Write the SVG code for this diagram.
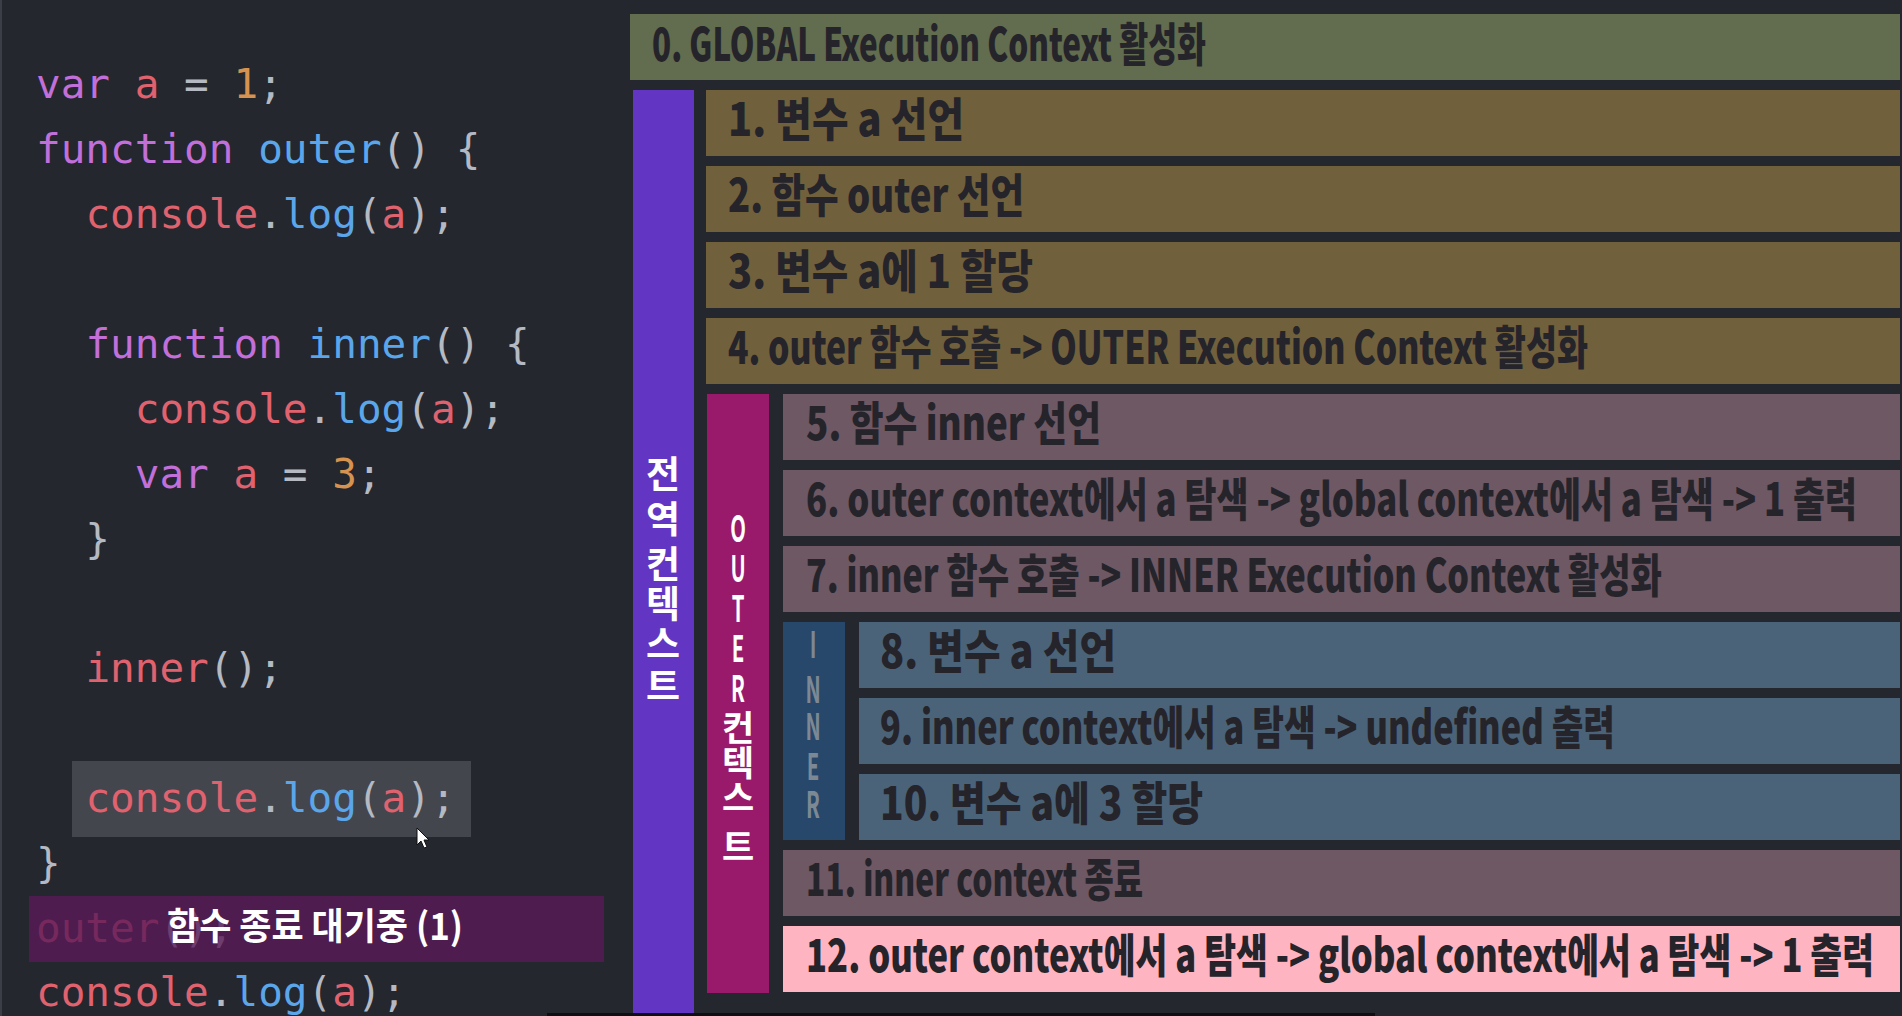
<svg xmlns="http://www.w3.org/2000/svg" width="1902" height="1016" viewBox="0 0 1902 1016">
<defs>
<style>
.code{font-family:"DejaVu Sans Mono","Liberation Mono",monospace;font-size:41px;white-space:pre;fill:#b4b9c2}
.k{fill:#c26fd9}.f{fill:#5ba6ea}.v{fill:#e0626f}.n{fill:#d6924f}.p{fill:#b4b9c2}
.lbl{font-family:"Noto Sans CJK KR","Noto Sans",sans-serif;font-weight:900;font-size:46px;fill:#25242b}
.vt{font-family:"Noto Sans CJK KR","Noto Sans",sans-serif;font-weight:700;font-size:37px;fill:#ffffff;text-anchor:middle}
.g0{fill:#626c4e}.g1{fill:#71603c}.g2{fill:#6d5864}.g3{fill:#4b6378}.g4{fill:#ffb5c1}
</style>
</defs>
<rect x="0" y="0" width="1902" height="1016" fill="#24272e"/>
<rect x="0" y="0" width="2" height="1016" fill="#3b3e46"/>

<g id="code">
<rect x="72" y="761" width="399" height="76" fill="#44464d"/>
<text class="code" x="36" y="98"><tspan class="k">var</tspan> <tspan class="v">a</tspan> = <tspan class="n">1</tspan>;</text>
<text class="code" x="36" y="163"><tspan class="k">function</tspan> <tspan class="f">outer</tspan>() {</text>
<text class="code" x="36" y="228">  <tspan class="v">console</tspan>.<tspan class="f">log</tspan>(<tspan class="v">a</tspan>);</text>
<text class="code" x="36" y="358">  <tspan class="k">function</tspan> <tspan class="f">inner</tspan>() {</text>
<text class="code" x="36" y="423">    <tspan class="v">console</tspan>.<tspan class="f">log</tspan>(<tspan class="v">a</tspan>);</text>
<text class="code" x="36" y="488">    <tspan class="k">var</tspan> <tspan class="v">a</tspan> = <tspan class="n">3</tspan>;</text>
<text class="code" x="36" y="553">  }</text>
<text class="code" x="36" y="682">  <tspan class="v">inner</tspan>();</text>
<text class="code" x="36" y="812">  <tspan class="v">console</tspan>.<tspan class="f">log</tspan>(<tspan class="v">a</tspan>);</text>
<text class="code" x="36" y="877">}</text>
<text class="code" x="36" y="942"><tspan class="v">outer</tspan>();</text>
<text class="code" x="36" y="1006"><tspan class="v">console</tspan>.<tspan class="f">log</tspan>(<tspan class="v">a</tspan>);</text>
<polygon points="417,828 417,845 421,841 424,848 427,847 424,840 429,840" fill="#ffffff" stroke="#111111" stroke-width="1"/>
</g>

<g id="waiting">
<rect x="29" y="896" width="575" height="66" fill="#5a1958" opacity="0.78"/>
<text x="167" y="940" textLength="296" lengthAdjust="spacingAndGlyphs" style="font-family:'Noto Sans CJK KR','Noto Sans',sans-serif;font-weight:700;font-size:37px;fill:#ffffff">함수 종료 대기중 (1)</text>
</g>

<g id="global-context">
<rect x="633" y="90" width="61" height="923" fill="#6236c3"/>
<text class="vt" x="663"><tspan x="663" y="488">전</tspan><tspan x="663" y="533">역</tspan><tspan x="663" y="578">컨</tspan><tspan x="663" y="618">텍</tspan><tspan x="663" y="658">스</tspan><tspan x="663" y="700">트</tspan></text>
</g>

<g id="outer-context">
<rect x="707" y="394" width="62" height="599" fill="#991a6b"/>
<g transform="translate(738 0) scale(0.55 1)">
<text class="vt" style="font-size:37px"><tspan x="0" y="542">O</tspan><tspan x="0" y="582">U</tspan><tspan x="0" y="622">T</tspan><tspan x="0" y="662">E</tspan><tspan x="0" y="702">R</tspan></text>
</g>
<text class="vt" style="font-size:35px"><tspan x="738" y="741">컨</tspan><tspan x="738" y="776">텍</tspan><tspan x="738" y="811">스</tspan><tspan x="738" y="860">트</tspan></text>
</g>

<g id="inner-context">
<rect x="783" y="622" width="62" height="218" fill="#27486a"/>
<g transform="translate(813 0) scale(0.55 1)">
<text class="vt" style="font-size:37px;fill:#7c8894"><tspan x="0" y="658">I</tspan><tspan x="0" y="703">N</tspan><tspan x="0" y="740">N</tspan><tspan x="0" y="780">E</tspan><tspan x="0" y="818">R</tspan></text>
</g>
</g>

<g id="step0"><rect class="g0" x="630" y="14" width="1270" height="66"/><text class="lbl" x="652" y="61" textLength="554" lengthAdjust="spacingAndGlyphs">0. GLOBAL Execution Context 활성화</text></g>
<g id="step1"><rect class="g1" x="706" y="90" width="1194" height="66"/><text class="lbl" x="728" y="136" textLength="236" lengthAdjust="spacingAndGlyphs">1. 변수 a 선언</text></g>
<g id="step2"><rect class="g1" x="706" y="166" width="1194" height="66"/><text class="lbl" x="728" y="212" textLength="296" lengthAdjust="spacingAndGlyphs">2. 함수 outer 선언</text></g>
<g id="step3"><rect class="g1" x="706" y="242" width="1194" height="66"/><text class="lbl" x="728" y="288" textLength="305" lengthAdjust="spacingAndGlyphs">3. 변수 a에 1 할당</text></g>
<g id="step4"><rect class="g1" x="706" y="318" width="1194" height="66"/><text class="lbl" x="728" y="364" textLength="860" lengthAdjust="spacingAndGlyphs">4. outer 함수 호출 -&gt; OUTER Execution Context 활성화</text></g>
<g id="step5"><rect class="g2" x="783" y="394" width="1117" height="66"/><text class="lbl" x="806" y="440" textLength="295" lengthAdjust="spacingAndGlyphs">5. 함수 inner 선언</text></g>
<g id="step6"><rect class="g2" x="783" y="470" width="1117" height="66"/><text class="lbl" x="806" y="516" textLength="1051" lengthAdjust="spacingAndGlyphs">6. outer context에서 a 탐색 -&gt; global context에서 a 탐색 -&gt; 1 출력</text></g>
<g id="step7"><rect class="g2" x="783" y="546" width="1117" height="66"/><text class="lbl" x="806" y="592" textLength="856" lengthAdjust="spacingAndGlyphs">7. inner 함수 호출 -&gt; INNER Execution Context 활성화</text></g>
<g id="step8"><rect class="g3" x="859" y="622" width="1041" height="66"/><text class="lbl" x="880" y="668" textLength="236" lengthAdjust="spacingAndGlyphs">8. 변수 a 선언</text></g>
<g id="step9"><rect class="g3" x="859" y="698" width="1041" height="66"/><text class="lbl" x="880" y="744" textLength="735" lengthAdjust="spacingAndGlyphs">9. inner context에서 a 탐색 -&gt; undefined 출력</text></g>
<g id="step10"><rect class="g3" x="859" y="774" width="1041" height="66"/><text class="lbl" x="880" y="820" textLength="323" lengthAdjust="spacingAndGlyphs">10. 변수 a에 3 할당</text></g>
<g id="step11"><rect class="g2" x="783" y="850" width="1117" height="66"/><text class="lbl" x="806" y="896" textLength="337" lengthAdjust="spacingAndGlyphs">11. inner context 종료</text></g>
<g id="step12"><rect class="g4" x="783" y="926" width="1117" height="66"/><text class="lbl" x="806" y="972" textLength="1068" lengthAdjust="spacingAndGlyphs">12. outer context에서 a 탐색 -&gt; global context에서 a 탐색 -&gt; 1 출력</text></g>

<rect x="547" y="1013" width="828" height="3" fill="#0e0f12"/>
</svg>
